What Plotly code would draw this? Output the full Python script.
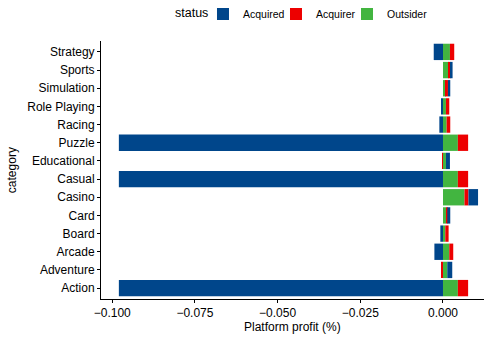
import plotly.graph_objects as go

categories = ["Action", "Adventure", "Arcade", "Board", "Card", "Casino", "Casual",
              "Educational", "Puzzle", "Racing", "Role Playing", "Simulation", "Sports", "Strategy"]
acquired = [-0.098, 0.0015, -0.0026, -0.0008, 0.0009, 0.0029, -0.098,
            0.0012, -0.098, -0.0011, -0.0005, 0.0007, 0.0006, -0.0028]
acquirer = [0.0031, -0.0005, 0.0012, 0.0010, 0.0003, 0.0012, 0.0031,
            -0.0003, 0.0031, 0.0011, 0.0010, 0.0006, 0.0006, 0.0013]
outsider = [0.0045, 0.0013, 0.0019, 0.0007, 0.0010, 0.0065, 0.0045,
            0.0009, 0.0045, 0.0011, 0.0009, 0.0009, 0.0017, 0.0021]

x_tick_vals = [-0.100, -0.075, -0.050, -0.025, 0.000]
x_tick_text = ["\u22120.100", "\u22120.075", "\u22120.050", "\u22120.025", "0.000"]

font = "Liberation Sans, Arial, sans-serif"

fig = go.Figure()
# order of traces = stacking order outward from zero
fig.add_trace(go.Bar(y=categories, x=outsider, name="Outsider", orientation="h",
                     marker=dict(color="#42B540", line=dict(width=0)), legend="legend3"))
fig.add_trace(go.Bar(y=categories, x=acquirer, name="Acquirer", orientation="h",
                     marker=dict(color="#ED0000", line=dict(width=0)), legend="legend2"))
fig.add_trace(go.Bar(y=categories, x=acquired, name="Acquired", orientation="h",
                     marker=dict(color="#00468B", line=dict(width=0)), legend="legend"))


def legend_box(xpos):
    return dict(orientation="h", x=xpos, xanchor="left", y=1.105, yanchor="middle",
                font=dict(size=10.5), itemwidth=30, bgcolor="rgba(0,0,0,0)")


fig.update_layout(
    width=490, height=339,
    barmode="relative", bargap=0.1,
    plot_bgcolor="white", paper_bgcolor="white",
    margin=dict(l=101, r=6, t=41, b=40, autoexpand=False),
    font=dict(family=font, size=12, color="black"),
    showlegend=True,
    legend=legend_box(0.2663),
    legend2=legend_box(0.4569),
    legend3=legend_box(0.6423),
    xaxis=dict(range=[-0.1034, 0.0124], tickvals=x_tick_vals, ticktext=x_tick_text,
               showgrid=False, zeroline=False, showline=True, linecolor="black", linewidth=1,
               ticks="outside", ticklen=3, tickcolor="black",
               tickfont=dict(size=12, color="black"), automargin=False),
    yaxis=dict(categoryorder="array", categoryarray=categories,
               range=[-0.6, len(categories) - 0.4],
               showgrid=False, zeroline=False, showline=True, linecolor="black", linewidth=1,
               ticks="outside", ticklen=3, tickcolor="black",
               tickfont=dict(size=12, color="black"), automargin=False),
    annotations=[
        dict(text="status", xref="paper", yref="paper", x=0.188, y=1.109,
             xanchor="left", yanchor="middle", showarrow=False, font=dict(size=12.5)),
        dict(text="Platform profit (%)", xref="paper", yref="paper", x=0.5, y=-0.074,
             xanchor="center", yanchor="top", showarrow=False, font=dict(size=12)),
        dict(text="category", xref="paper", yref="paper", x=-0.232, y=0.5,
             xanchor="center", yanchor="middle", textangle=-90, showarrow=False,
             font=dict(size=12)),
    ],
)

fig.write_html("out.html", config={"displayModeBar": False},
               post_script="document.body.style.margin='0';")
